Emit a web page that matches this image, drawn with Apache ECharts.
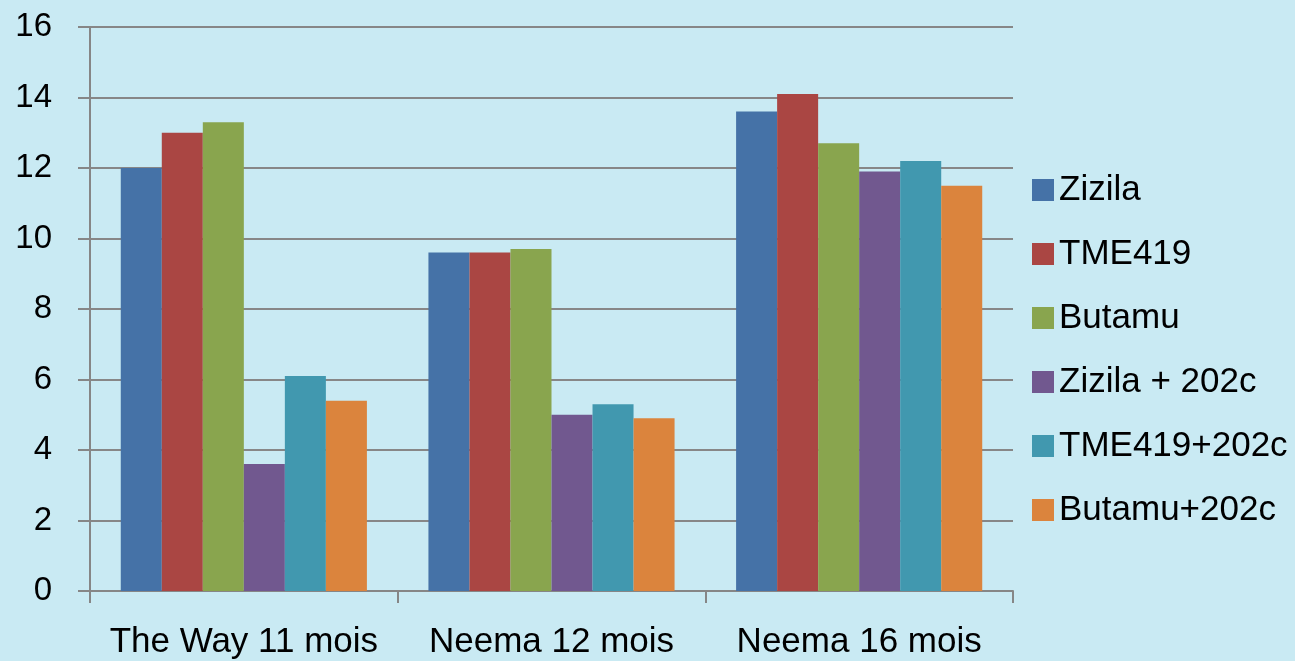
<!DOCTYPE html>
<html><head><meta charset="utf-8">
<script src="https://cdn.jsdelivr.net/npm/echarts@6/dist/echarts.min.js"></script>
<style>html,body{margin:0;padding:0;background:#C9EAF3;}#c{width:1295px;height:661px;}</style>
</head><body><div id="c"></div>
<script>
var categories = ['The Way 11 mois', 'Neema 12 mois', 'Neema 16 mois'];
var seriesNames = ['Zizila', 'TME419', 'Butamu', 'Zizila + 202c', 'TME419+202c', 'Butamu+202c'];
var zizila = [12.0, 9.6, 13.6];
var tme419 = [13.0, 9.6, 14.1];
var butamu = [13.3, 9.7, 12.7];
var zizila202c = [3.6, 5.0, 11.9];
var tme419202c = [6.1, 5.3, 12.2];
var butamu202c = [5.4, 4.9, 11.5];
var yTicks = {min: 0, max: 16, interval: 2};

var colors = ['#4572A7', '#AA4643', '#89A54E', '#71588F', '#4198AF', '#DB843D'];
var values = [zizila, tme419, butamu, zizila202c, tme419202c, butamu202c];
var font = 'Liberation Sans, Arial, sans-serif';
var chart = echarts.init(document.getElementById('c'));
chart.setOption({
  backgroundColor: '#C9EAF3',
  color: colors,
  animation: false,
  grid: {left: 90, right: 282, top: 27, bottom: 70},
  legend: {
    orient: 'vertical', left: 1027, top: 166,
    itemWidth: 22, itemHeight: 22, itemGap: 26,
    icon: 'rect',
    textStyle: {fontFamily: font, fontSize: 35, color: '#000', padding: [0,0,0,0], lineHeight: 38},
    data: seriesNames
  },
  xAxis: {
    type: 'category', data: categories,
    axisLine: {lineStyle: {color: '#868686', width: 2}},
    axisTick: {show: true, interval: 0, length: 12, lineStyle: {color: '#868686', width: 2}},
    axisLabel: {interval: 0, fontFamily: font, fontSize: 35, color: '#000', margin: 34}
  },
  yAxis: {
    type: 'value', min: yTicks.min, max: yTicks.max, interval: yTicks.interval,
    axisLine: {show: true, lineStyle: {color: '#868686', width: 2}},
    axisTick: {show: true, length: 12, lineStyle: {color: '#868686', width: 2}},
    splitLine: {lineStyle: {color: '#878787', width: 2}},
    axisLabel: {fontFamily: font, fontSize: 33, color: '#000', margin: 38}
  },
  series: seriesNames.map(function(n, i){
    return {name: n, type: 'bar', data: values[i], barGap: '0%', barCategoryGap: '20%'};
  })
});
</script></body></html>
